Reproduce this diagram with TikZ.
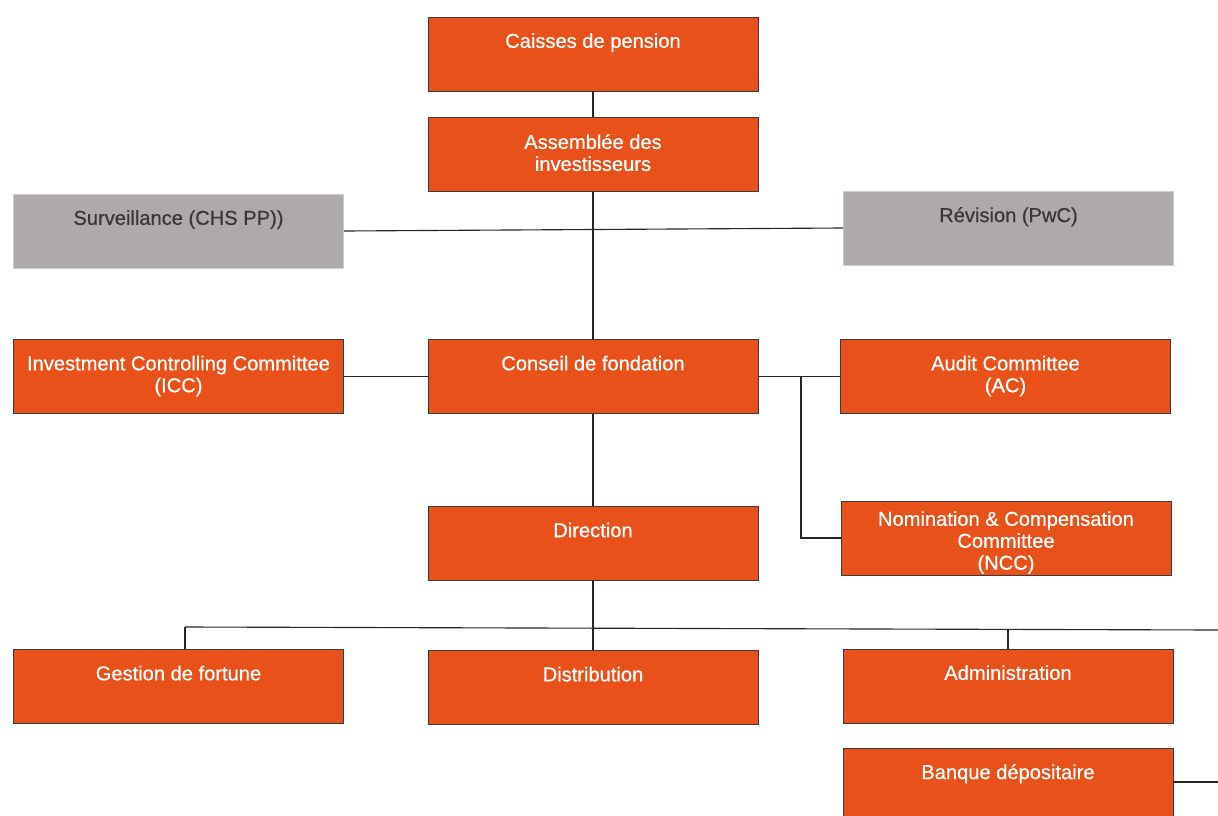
\documentclass[tikz,border=0pt]{standalone}
\usepackage{fontspec}
\setmainfont{Liberation Sans}
\newfontfamily\boxfont{Liberation Sans}[FakeBold=0.6]
\usepackage{xcolor}
\usetikzlibrary{positioning}
\definecolor{orgBox}{HTML}{E8511A}
\definecolor{grayBox}{HTML}{ADAAA9}
\definecolor{boxEdge}{HTML}{3C3C3C}
\def\BoxW{8.25cm}
\def\BoxH{1.85cm}
\tikzset{
	orgbox/.style={draw=boxEdge, fill=orgBox, line width=0.6pt, minimum width=\BoxW, minimum height=\BoxH, inner sep=0pt},
	graybox/.style={orgbox, draw=grayBox!60!white, fill=grayBox},
	boxtext/.style={anchor=north, yshift=-0.41cm, align=center, text=white, inner sep=0pt, font=\boxfont\fontsize{14.3}{15.6}\selectfont},
	graytext/.style={boxtext, text=black!78},
	link/.style={draw=black!85, line width=0.8pt}
}

\begin{document}
\begin{tikzpicture}[x=0.025cm,y=-0.025cm]
	\useasboundingbox (0,0) rectangle (1218,816);
	% middle column
	\node[orgbox, label={[boxtext]north:Caisses de pension}] (caisses) at (593,54) {};
	\node[orgbox, below=0.65cm of caisses, label={[boxtext]north:{Assembl\'ee des\\investisseurs}}] (assemblee) {};
	\node[orgbox, label={[boxtext]north:Conseil de fondation}] (conseil) at (593,376.5) {};
	\node[orgbox, below=2.3cm of conseil, label={[boxtext]north:Direction}] (direction) {};
	\node[orgbox, label={[boxtext]north:Distribution}] (distribution) at (593,687.5) {};
	% left column
	\node[graybox, label={[graytext]north:Surveillance (CHS PP))}] (surveillance) at (178.5,231) {};
	\node[orgbox, label={[boxtext]north:{Investment Controlling Committee\\(ICC)}}] (icc) at (178.5,376.5) {};
	\node[orgbox, label={[boxtext]north:Gestion de fortune}] (gestion) at (178.5,686.5) {};
	% right column
	\node[graybox, label={[graytext]north:R\'evision (PwC)}] (revision) at (1008.5,228) {};
	\node[orgbox, label={[boxtext]north:{Audit Committee\\(AC)}}] (ac) at (1005.5,376.5) {};
	\node[orgbox, label={[boxtext, yshift=0.15cm]north:{Nomination \& Compensation\\Committee\\(NCC)}}] (ncc) at (1006,538) {};
	\node[orgbox, label={[boxtext]north:Administration}] (admin) at (1008,686) {};
	\node[orgbox, label={[boxtext]north:Banque d\'epositaire}] (banque) at (1008,785) {};

	\coordinate (split) at (801,376.5);
	\coordinate (busL) at (185,627);
	\coordinate (busR) at (1218,630);
	\coordinate (edgeR) at (1218,782);

	\draw[link] (caisses) -- (assemblee);
	\draw[link] (assemblee) -- (conseil);
	\draw[link] (surveillance.east) -- (revision.west);
	\draw[link] (icc) -- (conseil);
	\draw[link] (conseil) -- (ac);
	\draw[link] (split) |- (ncc.west);
	\draw[link] (conseil) -- (direction);
	\draw[link] (direction) -- (distribution);
	\draw[link] (busL) -- (busR);
	\draw[link] (busL) -- (busL |- gestion.north);
	\draw[link] (admin.north) -- (admin.north |- busR);
	\draw[link] (banque.east |- edgeR) -- (edgeR);
\end{tikzpicture}
\end{document}
